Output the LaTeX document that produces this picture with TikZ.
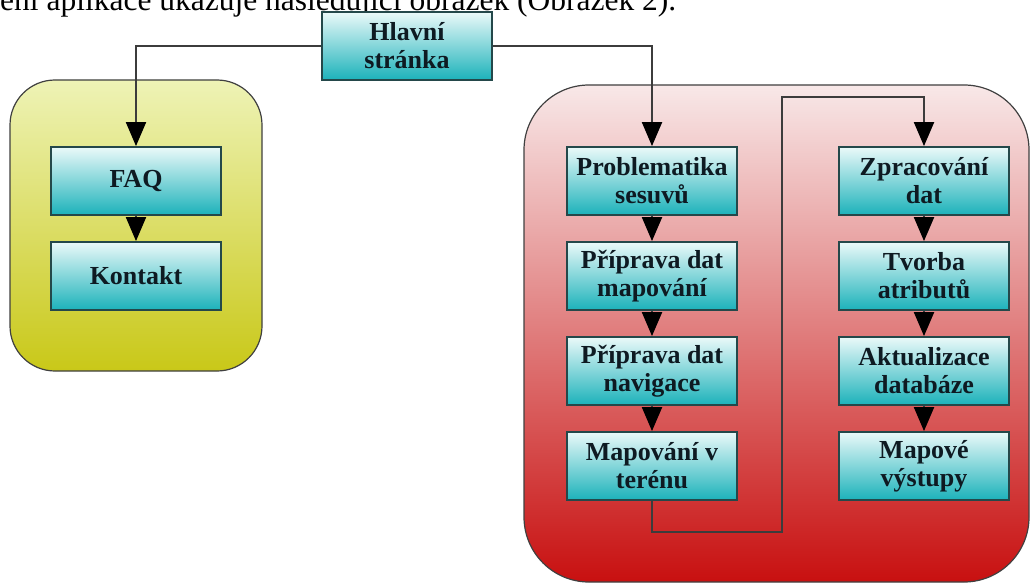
\documentclass[tikz,border=0pt]{standalone}
\usepackage{fontspec}
\setmainfont{Liberation Serif}
\usetikzlibrary{arrows.meta}

\definecolor{boxtop}{HTML}{EAF9F9}
\definecolor{boxbot}{HTML}{1CB2BA}
\definecolor{boxline}{HTML}{24484A}
\definecolor{yeltop}{HTML}{EEF3B6}
\definecolor{yelbot}{HTML}{C9C818}
\definecolor{redtop}{HTML}{F8E8E8}
\definecolor{redbot}{HTML}{C81010}
\definecolor{linegray}{HTML}{3C3C3C}
\definecolor{txtdark}{HTML}{0E1A22}

\begin{document}
\begin{tikzpicture}[x=1pt, y=-1pt, >={Triangle[length=24pt,width=20pt,color=black]},
  page/.style={draw=boxline, line width=1.8pt, top color=boxtop, bottom color=boxbot,
    minimum width=170pt, minimum height=68pt, inner sep=0pt, align=center,
    text=txtdark, font=\bfseries\fontsize{26}{28}\selectfont},
  link/.style={->, draw=linegray, line width=2pt}]
\useasboundingbox (0,0) rectangle (1032,583);
\clip (0,0) rectangle (1032,583);

% cut text line above the picture
\node[anchor=base west, inner sep=0pt, font=\fontsize{31.5}{32}\selectfont] (intro) at (0,11)
  {ení aplikace ukazuje následující obrázek (Obrázek 2).};

% groups
\draw[draw=black!75, line width=1.2pt, top color=yeltop, bottom color=yelbot, rounded corners=45pt]
  (10,80) rectangle (262,371);
\draw[draw=black!75, line width=1.2pt, top color=redtop, bottom color=redbot, rounded corners=65pt]
  (524,85) rectangle (1029,582);

% pages
\node[page] (hlavni) at (407,46) {Hlavní\\stránka};
\node[page] (faq) at (136,181) {FAQ};
\node[page] (kontakt) at (136,276) {Kontakt};

\node[page] (problematika) at (652,181) {Problematika\\sesuvů};
\node[page] (pripravamap) at (652,276) {Příprava dat\\mapování};
\node[page] (pripravanav) at (652,371) {Příprava dat\\navigace};
\node[page] (mapovani) at (652,466) {Mapování v\\terénu};

\node[page] (zpracovani) at (924,181) {Zpracování\\dat};
\node[page] (tvorba) at (924,276) {Tvorba\\atributů};
\node[page] (aktualizace) at (924,371) {Aktualizace\\databáze};
\node[page] (vystupy) at (924,466) {Mapové\\výstupy};

\coordinate (dolu) at (782,532);
\coordinate (nahoru) at (782,97);

% links
\draw[link] (hlavni.west) -| (faq.north);
\draw[link] (hlavni.east) -| (problematika.north);
\draw[link] (faq) -- (kontakt);
\draw[link] (problematika) -- (pripravamap);
\draw[link] (pripravamap) -- (pripravanav);
\draw[link] (pripravanav) -- (mapovani);
\draw[link] (mapovani.south) |- (dolu) -- (nahoru) -| (zpracovani.north);
\draw[link] (zpracovani) -- (tvorba);
\draw[link] (tvorba) -- (aktualizace);
\draw[link] (aktualizace) -- (vystupy);

\end{tikzpicture}
\end{document}
